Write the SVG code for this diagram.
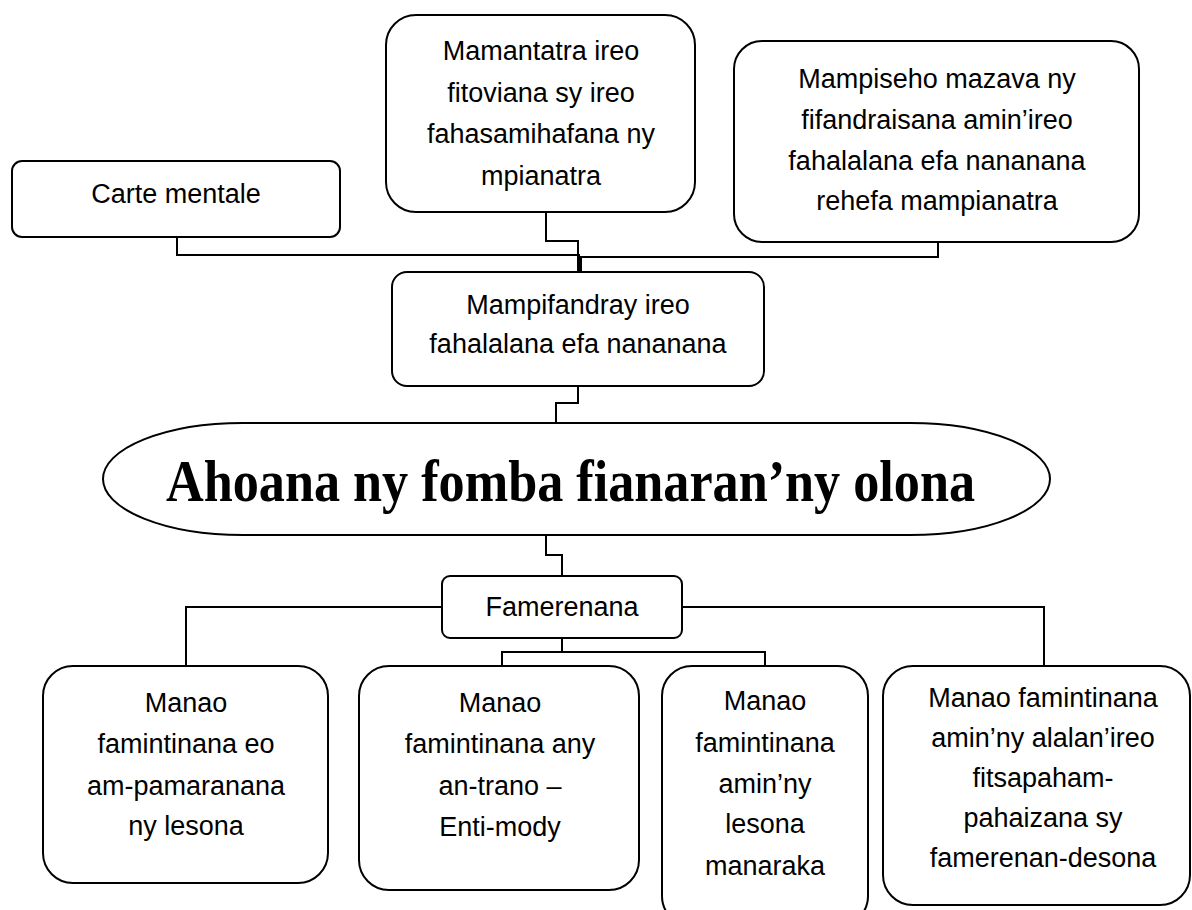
<svg xmlns="http://www.w3.org/2000/svg" width="1192" height="910" viewBox="0 0 1192 910">
<style>
.box{fill:#fff;stroke:#000;stroke-width:2}
.t{font-family:"Liberation Sans",Arial,sans-serif;font-size:27px;fill:#000;text-anchor:middle}
.title{font-family:"Liberation Serif","Times New Roman",serif;font-weight:bold;font-size:60px;fill:#000}
.c{fill:none;stroke:#000;stroke-width:2}
</style>
<rect width="1192" height="910" fill="#fff"/>
<g id="connectors">
<path class="c" d="M177 237 V255 H579 V272"/>
<path class="c" d="M546 212 V241 H578 V272"/>
<path class="c" d="M938 242 V257 H581 V272"/>
<path class="c" d="M578 386 V403 H556 V423"/>
<path class="c" d="M546 535 V555 H562 V576"/>
<path class="c" d="M442 607 H186 V666"/>
<path class="c" d="M682 607 H1044 V666"/>
<path class="c" d="M562 638 V652"/>
<path class="c" d="M502 666 V652 H765 V666"/>
</g>
<g id="carte">
<rect class="box" x="12" y="161" width="328" height="76" rx="10"/>
<text class="t" x="176" y="203">Carte mentale</text>
</g>
<g id="mamantatra">
<rect class="box" x="386" y="15" width="309" height="197" rx="30"/>
<text class="t" x="541" y="60">Mamantatra ireo</text>
<text class="t" x="541" y="102">fitoviana sy ireo</text>
<text class="t" x="541" y="143">fahasamihafana ny</text>
<text class="t" x="541" y="185">mpianatra</text>
</g>
<g id="mampiseho">
<rect class="box" x="734" y="41" width="405" height="201" rx="28"/>
<text class="t" x="937" y="88">Mampiseho mazava ny</text>
<text class="t" x="937" y="129">fifandraisana amin’ireo</text>
<text class="t" x="937" y="170">fahalalana efa nananana</text>
<text class="t" x="937" y="210">rehefa mampianatra</text>
</g>
<g id="mampifandray">
<rect class="box" x="392" y="272" width="372" height="114" rx="15"/>
<text class="t" x="578" y="314">Mampifandray ireo</text>
<text class="t" x="578" y="353">fahalalana efa nananana</text>
</g>
<g id="ahoana">
<rect class="box" x="103" y="423" width="947" height="112" rx="140" ry="56"/>
<text class="title" x="166" y="501" textLength="809" lengthAdjust="spacingAndGlyphs">Ahoana ny fomba fianaran’ny olona</text>
</g>
<g id="famerenana">
<rect class="box" x="442" y="576" width="240" height="62" rx="8"/>
<text class="t" x="562" y="616">Famerenana</text>
</g>
<g id="box1">
<rect class="box" x="43" y="666" width="285" height="217" rx="30"/>
<text class="t" x="186" y="712">Manao</text>
<text class="t" x="186" y="753">famintinana eo</text>
<text class="t" x="186" y="795">am-pamaranana</text>
<text class="t" x="186" y="835">ny lesona</text>
</g>
<g id="box2">
<rect class="box" x="359" y="666" width="280" height="224" rx="30"/>
<text class="t" x="500" y="712">Manao</text>
<text class="t" x="500" y="753">famintinana any</text>
<text class="t" x="500" y="795">an-trano –</text>
<text class="t" x="500" y="836">Enti-mody</text>
</g>
<g id="box3">
<rect class="box" x="662" y="666" width="206" height="260" rx="30"/>
<text class="t" x="765" y="710">Manao</text>
<text class="t" x="765" y="752">famintinana</text>
<text class="t" x="765" y="793">amin’ny</text>
<text class="t" x="765" y="833">lesona</text>
<text class="t" x="765" y="875">manaraka</text>
</g>
<g id="box4">
<rect class="box" x="883" y="666" width="307" height="239" rx="30"/>
<text class="t" x="1043" y="707">Manao famintinana</text>
<text class="t" x="1043" y="747">amin’ny alalan’ireo</text>
<text class="t" x="1043" y="787">fitsapaham-</text>
<text class="t" x="1043" y="827">pahaizana sy</text>
<text class="t" x="1043" y="867">famerenan-desona</text>
</g>
</svg>
